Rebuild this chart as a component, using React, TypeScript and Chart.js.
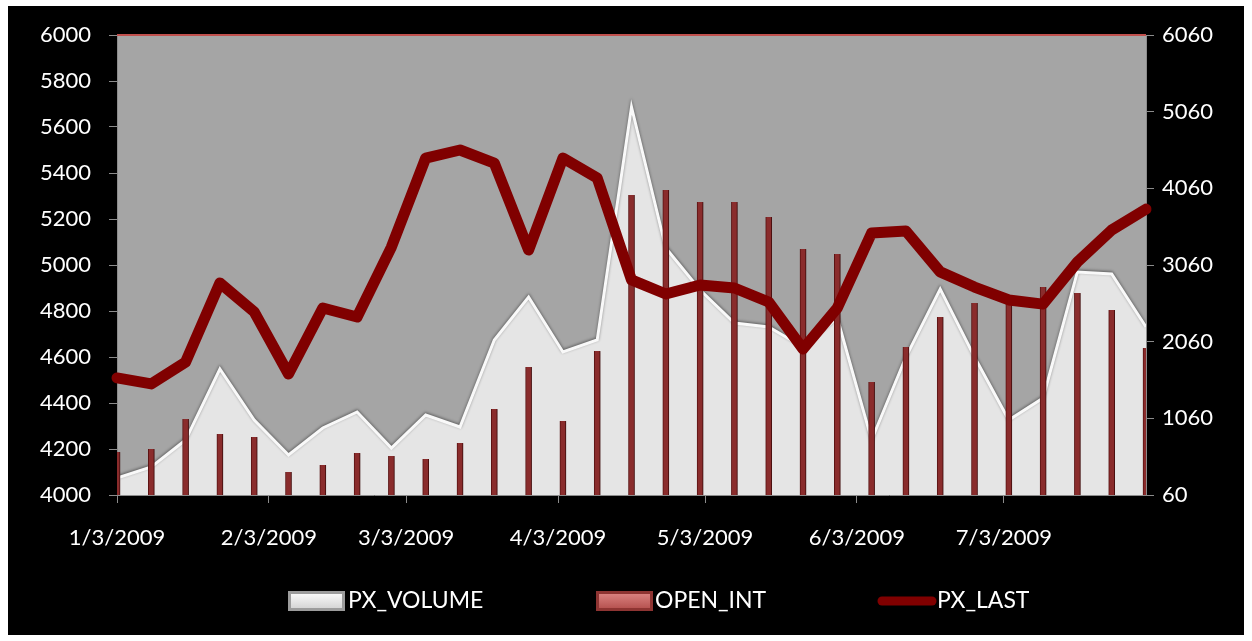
import React, { useEffect, useRef } from 'react';
import { Chart, registerables } from 'chart.js';

Chart.register(...registerables);

const weekDates = [
  '1/3/2009', '1/10/2009', '1/17/2009', '1/24/2009', '1/31/2009', '2/7/2009', '2/14/2009', '2/21/2009',
  '2/28/2009', '3/7/2009', '3/14/2009', '3/21/2009', '3/28/2009', '4/4/2009', '4/11/2009', '4/18/2009',
  '4/25/2009', '5/2/2009', '5/9/2009', '5/16/2009', '5/23/2009', '5/30/2009', '6/6/2009', '6/13/2009',
  '6/20/2009', '6/27/2009', '7/4/2009', '7/11/2009', '7/18/2009', '7/25/2009', '8/1/2009',
];

const pxVolume = [
  282, 425, 777, 1703, 1038, 582, 934, 1143, 673, 1103, 947, 2082, 2643, 1925, 2082, 5121,
  3282, 2734, 2303, 2251, 1991, 2369, 777, 1860, 2747, 1860, 1038, 1325, 2969, 2943, 2251,
];

const openInt = [
  621, 660, 1051, 856, 817, 360, 451, 608, 569, 530, 738, 1182, 1730, 1025, 1938, 3973,
  4038, 3882, 3882, 3686, 3269, 3203, 1534, 1990, 2382, 2564, 2551, 2773, 2695, 2473, 1977,
];

const pxLast = [
  4509, 4483, 4578, 4922, 4796, 4526, 4813, 4774, 5078, 5465, 5500, 5443, 5065, 5465, 5378, 4935,
  4874, 4913, 4900, 4839, 4635, 4813, 5139, 5148, 4970, 4904, 4848, 4830, 5013, 5152, 5243,
];

const xTickLabels = ['1/3/2009', '2/3/2009', '3/3/2009', '4/3/2009', '5/3/2009', '6/3/2009', '7/3/2009'];
const xStart = '1/3/2009';
const xEnd = '8/1/2009';
const leftMin = 4000;
const leftMax = 6000;
const leftStep = 200;
const rightTicks = [60, 1060, 2060, 3060, 4060, 5060, 6060];

const legendNames = ['PX_VOLUME', 'OPEN_INT', 'PX_LAST'];

function dayIndex(s: string): number {
  const [m, d, y] = s.split('/').map(Number);
  const [m0, d0, y0] = xStart.split('/').map(Number);
  return Math.round((Date.UTC(y, m - 1, d) - Date.UTC(y0, m0 - 1, d0)) / 86400000);
}

const FONT = 'Lato, "Open Sans", sans-serif';

const shadowPlugin = {
  id: 'shadowPlugin',
  beforeDatasetDraw(chart: any, args: any) {
    const ctx = chart.ctx;
    ctx.save();
    if (args.index === 0) {
      ctx.shadowColor = 'rgba(0,0,0,0.45)';
      ctx.shadowBlur = 3;
      ctx.shadowOffsetX = 0;
      ctx.shadowOffsetY = -1;
    } else if (args.index === 1) {
      ctx.shadowColor = 'rgba(0,0,0,0.3)';
      ctx.shadowBlur = 2;
      ctx.shadowOffsetX = 1;
      ctx.shadowOffsetY = 0;
    }
  },
  afterDatasetDraw(chart: any) {
    chart.ctx.restore();
  },
};

const bgPlugin = {
  id: 'bgPlugin',
  beforeDraw(chart: any) {
    const { ctx, chartArea: a, width, height } = chart;
    ctx.save();
    ctx.fillStyle = '#ffffff';
    ctx.fillRect(0, 0, width, height);
    ctx.fillStyle = '#000000';
    ctx.fillRect(8, 6, width - 16, height - 12);
    ctx.fillStyle = '#a5a5a5';
    ctx.fillRect(a.left, a.top, a.right - a.left, a.bottom - a.top);
    ctx.restore();
  },
  afterDraw(chart: any) {
    const { ctx, chartArea: a } = chart;
    ctx.save();
    ctx.strokeStyle = '#c0504d';
    ctx.lineWidth = 2;
    ctx.beginPath();
    ctx.moveTo(a.left, a.top);
    ctx.lineTo(a.right, a.top);
    ctx.stroke();

    // legend
    const y = 601;
    let g = ctx.createLinearGradient(0, 591, 0, 611);
    g.addColorStop(0, '#ffffff');
    g.addColorStop(1, '#cfcfcf');
    ctx.fillStyle = '#9c9c9c';
    ctx.fillRect(288, 591, 57, 20);
    ctx.fillStyle = g;
    ctx.fillRect(291, 594, 51, 14);
    g = ctx.createLinearGradient(0, 591, 0, 611);
    g.addColorStop(0, '#e08a88');
    g.addColorStop(1, '#b04a48');
    ctx.fillStyle = '#8e3432';
    ctx.fillRect(596, 591, 57, 20);
    ctx.fillStyle = g;
    ctx.fillRect(599, 594, 51, 14);
    ctx.strokeStyle = '#800000';
    ctx.lineWidth = 9;
    ctx.lineCap = 'round';
    ctx.beginPath();
    ctx.moveTo(882, y);
    ctx.lineTo(932, y);
    ctx.stroke();

    ctx.fillStyle = '#ffffff';
    ctx.font = `23px ${FONT}`;
    ctx.textBaseline = 'middle';
    ctx.textAlign = 'left';
    ctx.fillText(legendNames[0], 348, y);
    ctx.fillText(legendNames[1], 655, y);
    ctx.fillText(legendNames[2], 937, y);
    ctx.restore();
  },
};

export default function App() {
  const ref = useRef<HTMLCanvasElement | null>(null);

  useEffect(() => {
    document.body.style.margin = '0';
    const canvas = ref.current!;
    const xs = weekDates.map(dayIndex);
    const tickDays = xTickLabels.map(dayIndex);
    const labelMap: Record<number, string> = {};
    tickDays.forEach((d, i) => (labelMap[d] = xTickLabels[i]));

    const tickFont = { family: FONT, size: 22 };
    const chart = new Chart(canvas, {
      type: 'bar',
      data: {
        datasets: [
          {
            type: 'line',
            label: legendNames[0],
            data: xs.map((x, i) => ({ x, y: pxVolume[i] })),
            yAxisID: 'y1',
            fill: 'start',
            backgroundColor: '#e5e5e5',
            borderColor: '#f9f9f9',
            borderWidth: 3,
            pointRadius: 0,
            tension: 0,
            order: 3,
          } as any,
          {
            type: 'bar',
            label: legendNames[1],
            data: xs.map((x, i) => ({ x, y: openInt[i] })),
            yAxisID: 'y1',
            backgroundColor: '#8a2c2c',
            borderColor: '#5e1414',
            borderWidth: { left: 1, right: 1, top: 0, bottom: 0 },
            barThickness: 6,
            order: 2,
          } as any,
          {
            type: 'line',
            label: legendNames[2],
            data: xs.map((x, i) => ({ x, y: pxLast[i] })),
            yAxisID: 'y',
            borderColor: '#800000',
            borderWidth: 11,
            pointRadius: 0,
            borderCapStyle: 'round',
            borderJoinStyle: 'round',
            tension: 0,
            order: 1,
            clip: 12,
          } as any,
        ],
      },
      options: {
        responsive: false,
        animation: false,
        devicePixelRatio: 1,
        layout: { padding: { left: 8, right: 6, top: 35, bottom: 0 } },
        plugins: { legend: { display: false }, tooltip: { enabled: false } },
        scales: {
          x: {
            type: 'linear',
            offset: false,
            min: dayIndex(xStart),
            max: dayIndex(xEnd),
            afterBuildTicks: (s: any) => {
              s.ticks = tickDays.map((v) => ({ value: v }));
            },
            afterFit: (s: any) => {
              s.height = 146;
            },
            ticks: {
              autoSkip: false,
              maxRotation: 0,
              color: '#ffffff',
              font: tickFont,
              padding: 22,
              callback: (v: any) => labelMap[v as number] ?? '',
            },
            grid: { offset: false, drawOnChartArea: false, drawTicks: true, tickLength: 8, color: '#8c8c8c' },
            border: { color: '#8c8c8c' },
          },
          y: {
            position: 'left',
            min: leftMin,
            max: leftMax,
            afterFit: (s: any) => {
              s.width = 109;
            },
            ticks: {
              stepSize: leftStep,
              color: '#ffffff',
              font: tickFont,
              padding: 18,
              callback: (v: any) => String(v),
            },
            grid: { drawOnChartArea: false, drawTicks: true, tickLength: 8, color: '#8c8c8c' },
            border: { color: '#8c8c8c' },
          },
          y1: {
            position: 'right',
            min: rightTicks[0],
            max: rightTicks[rightTicks.length - 1],
            afterBuildTicks: (s: any) => {
              s.ticks = rightTicks.map((v) => ({ value: v }));
            },
            afterFit: (s: any) => {
              s.width = 100;
            },
            ticks: { color: '#ffffff', font: tickFont, padding: 8, callback: (v: any) => String(v) },
            grid: { drawOnChartArea: false, drawTicks: true, tickLength: 8, color: '#8c8c8c' },
            border: { color: '#8c8c8c' },
          },
        },
      } as any,
      plugins: [bgPlugin, shadowPlugin],
    });
    return () => chart.destroy();
  }, []);

  return (
    <div style={{ width: 1252, height: 641 }}>
      <canvas ref={ref} width={1252} height={641} style={{ width: 1252, height: 641, display: 'block' }} />
    </div>
  );
}
